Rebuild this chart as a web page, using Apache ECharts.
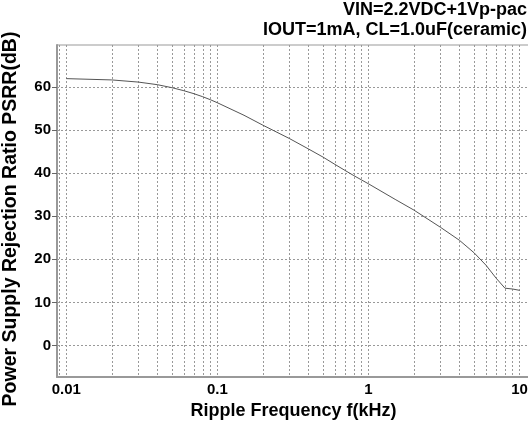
<!DOCTYPE html>
<html>
<head>
<meta charset="utf-8">
<script src="https://cdn.jsdelivr.net/npm/echarts@6/dist/echarts.min.js"></script>
<style>html,body{margin:0;padding:0;background:#fff;}#c{width:528px;height:423px;}</style>
</head>
<body>
<div id="c"></div>
<script>
// Ripple frequency (kHz)
var freqKHz = [0.01, 0.02, 0.03, 0.04, 0.05, 0.06, 0.07, 0.08, 0.09, 0.1, 0.15, 0.2, 0.3, 0.4, 0.5, 0.6, 0.7, 0.8, 0.9, 1, 1.5, 2, 3, 4, 5, 6, 7, 8, 9, 10];
// PSRR (dB)
var psrrDB = [61.9, 61.6, 61.1, 60.5, 59.8, 59.1, 58.4, 57.7, 57.0, 56.3, 53.4, 51.1, 48.0, 45.6, 43.7, 42.0, 40.6, 39.4, 38.4, 37.5, 33.9, 31.4, 27.4, 24.4, 21.5, 18.6, 15.6, 13.3, 13.1, 12.8];
// tick labels
var xTickLabels = ['0.01', '0.1', '1', '10'];
var yTickValues = [0, 10, 20, 30, 40, 50, 60];
var xGridFreqs = [0.009, 0.01, 0.02, 0.03, 0.04, 0.05, 0.06, 0.07, 0.08, 0.09, 0.1, 0.2, 0.3, 0.4, 0.5, 0.6, 0.7, 0.8, 0.9, 1, 2, 3, 4, 5, 6, 7, 8, 9, 10];
var titleLines = ['VIN=2.2VDC+1Vp-pac', 'IOUT=1mA, CL=1.0uF(ceramic)'];

var FONT = '"Liberation Sans", Arial, sans-serif';
var lg = function (v) { return Math.log10(v); };
var seriesData = freqKHz.map(function (f, i) { return [lg(f), psrrDB[i]]; });

var chart = echarts.init(document.getElementById('c'));
chart.setOption({
  animation: false,
  backgroundColor: '#fff',
  title: titleLines.map(function (t, i) {
    return {
      text: t,
      right: 1,
      top: i * 20,
      padding: 0,
      textStyle: { fontFamily: FONT, fontWeight: 'bold', fontSize: 18, color: '#000', lineHeight: 20 }
    };
  }),
  grid: { left: 57, top: 45, right: -2, bottom: 46, containLabel: false, outerBoundsMode: 'none', show: true, borderColor: '#999', borderWidth: 1, backgroundColor: 'transparent' },
  xAxis: {
    type: 'value',
    min: -2.0616,
    max: 1.0688,
    name: 'Ripple Frequency f(kHz)',
    nameLocation: 'middle',
    nameGap: 24,
    nameTextStyle: { fontFamily: FONT, fontWeight: 'bold', fontSize: 18, color: '#000' },
    axisLine: { show: true, onZero: false, lineStyle: { color: '#999', width: 2 } },
    axisTick: { show: false, customValues: xGridFreqs.map(lg) },
    axisLabel: {
      customValues: xTickLabels.map(function (s) { return lg(parseFloat(s)); }),
      formatter: function (v) { var s = Math.pow(10, v); return xTickLabels.filter(function (t) { return Math.abs(parseFloat(t) - s) < s * 1e-6; })[0] || ''; },
      fontFamily: FONT, fontWeight: 'bold', fontSize: 15, color: '#000', margin: 5
    },
    splitLine: { show: true, lineStyle: { color: '#999', type: [2, 2], width: 1 } }
  },
  yAxis: {
    type: 'value',
    min: -7.3,
    max: 69.7,
    name: 'Power Supply Rejection Ratio PSRR(dB)',
    nameLocation: 'middle',
    nameGap: 36,
    nameTextStyle: { fontFamily: FONT, fontWeight: 'bold', fontSize: 19.5, color: '#000', padding: [0, 16, 0, 0] },
    axisLine: { show: true, onZero: false, lineStyle: { color: '#999', width: 2 } },
    axisTick: { show: true, length: 5, customValues: yTickValues, lineStyle: { color: '#666' } },
    axisLabel: { customValues: yTickValues, fontFamily: FONT, fontWeight: 'bold', fontSize: 15, color: '#000', margin: 6 },
    splitLine: { show: true, lineStyle: { color: '#999', type: [2, 2], width: 1 } }
  },
  series: [{
    type: 'line',
    data: seriesData,
    showSymbol: false,
    smooth: false,
    lineStyle: { color: '#555', width: 1 },
    z: 5
  }]
});
</script>
</body>
</html>
